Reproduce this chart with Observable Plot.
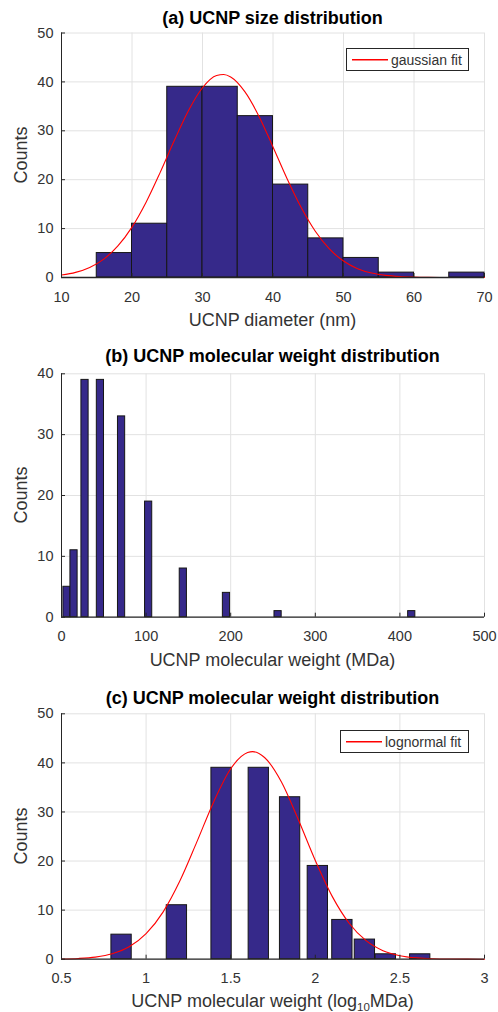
<!DOCTYPE html>
<html>
<head>
<meta charset="utf-8">
<script src="https://cdn.jsdelivr.net/npm/d3@7"></script>
<script src="https://cdn.jsdelivr.net/npm/@observablehq/plot@0.6"></script>
<style>
  body { margin: 0; background: #fff; font-family: "Liberation Sans", Arial, Helvetica, sans-serif; }
  #page { position: relative; width: 498px; height: 1012px; overflow: hidden; background: #fff; }
  .panel { position: absolute; left: 0; width: 498px; }
  .title { position: absolute; left: 61px; width: 423px; text-align: center; font-weight: bold;
           font-size: 18px; line-height: 18px; color: #000; white-space: nowrap; }
  .xlabel { position: absolute; left: 61px; width: 423px; text-align: center;
            font-size: 18px; line-height: 18px; color: #333; white-space: nowrap; }
  .xlabel sub { font-size: 11.5px; line-height: 0; vertical-align: -4px; }
  .ylabel { position: absolute; width: 200px; text-align: center; font-size: 18px; line-height: 18px;
            color: #333; transform: rotate(-90deg); white-space: nowrap; }
  .legend { position: absolute; box-sizing: border-box; border: 1px solid #262626; background: #fff;
            font-size: 14px; color: #333; white-space: nowrap; }
  .legend svg { position: absolute; left: 0; top: 0; }
  .legend .text { position: absolute; line-height: 14px; }
</style>
</head>
<body>
<div id="page"></div>
<script>
// ---- (a) size histogram: bin edges (nm) and counts ----
const sizeEdges  = [15, 20, 25, 30, 35, 40, 45, 50, 55, 60, 65, 70];
const sizeCounts = [5, 11, 39, 39, 33, 19, 8, 4, 1, 0, 1];

// gaussian fit curve sampled along the diameter axis
const gaussX = [10, 12, 14, 16, 18, 20, 22, 24, 26, 28, 30, 32, 33, 34, 36, 38, 40, 42, 44, 46, 48, 50, 52, 54, 56, 58, 60, 62, 64, 66, 68, 70];
const gaussY = [0.50, 1.05, 2.06, 3.77, 6.45, 10.3, 15.4, 21.5, 28.0, 34.1, 38.8, 41.3, 41.5, 41.0, 38.0, 33.0, 26.7, 20.2, 14.3, 9.45, 5.83, 3.37, 1.81, 0.91, 0.43, 0.19, 0.08, 0.03, 0.01, 0.0, 0.0, 0.0];

// ---- (b) molecular weight (MDa): bar centres and counts ----
const mwCenters = [6.5, 14.8, 27.8, 46, 71, 103, 144, 195, 256, 414];
const mwCounts  = [5, 11, 39, 39, 33, 19, 8, 4, 1, 1];

// ---- (c) log10 molecular weight: bar centres and counts ----
const logMwCenters = [0.855, 1.182, 1.446, 1.666, 1.851, 2.015, 2.160, 2.293, 2.417, 2.620];
const logMwCounts  = [5, 11, 39, 39, 33, 19, 8, 4, 1, 1];

// lognormal fit curve sampled along the log10 axis
const lognX = [0.5, 0.6, 0.7, 0.8, 0.9, 1.0, 1.1, 1.2, 1.3, 1.4, 1.5, 1.6, 1.63, 1.7, 1.8, 1.9, 2.0, 2.1, 2.2, 2.3, 2.4, 2.5, 2.6, 2.7, 2.8, 2.9, 3.0];
const lognY = [0.05, 0.15, 0.43, 1.10, 2.52, 5.19, 9.60, 15.98, 23.9, 32.1, 38.8, 42.1, 42.3, 41.1, 36.1, 28.4, 20.1, 12.8, 7.33, 3.77, 1.74, 0.72, 0.27, 0.09, 0.03, 0.01, 0.0];

// ---- axis ticks ----
const sizeXTicks  = [10, 20, 30, 40, 50, 60, 70];
const mwXTicks    = [0, 100, 200, 300, 400, 500];
const logXTicks   = [0.5, 1, 1.5, 2, 2.5, 3];
const counts50Ticks = [0, 10, 20, 30, 40, 50];
const counts40Ticks = [0, 10, 20, 30, 40];

// ---- text ----
const titles = ["(a) UCNP size distribution", "(b) UCNP molecular weight distribution", "(c) UCNP molecular weight distribution"];
const xLabels = ["UCNP diameter (nm)", "UCNP molecular weight (MDa)", "UCNP molecular weight (log<sub>10</sub>MDa)"];
const yLabel = "Counts";
const legendLabels = ["gaussian fit", "lognormal fit"];

// tables built from the arrays above
const sizeBars = sizeCounts.map((c, i) => ({x1: sizeEdges[i], x2: sizeEdges[i + 1], count: c}));
const gaussCurve = gaussX.map((x, i) => ({x, y: gaussY[i]}));
const MW_BAR_WIDTH = 8.5;
const mwBars = mwCenters.map((c, i) => ({x1: c - MW_BAR_WIDTH / 2, x2: c + MW_BAR_WIDTH / 2, count: mwCounts[i]}));
const LOG_BAR_WIDTH = 0.12;
const logBars = logMwCenters.map((c, i) => ({x1: c - LOG_BAR_WIDTH / 2, x2: c + LOG_BAR_WIDTH / 2, count: logMwCounts[i]}));
const lognCurve = lognX.map((x, i) => ({x, y: lognY[i]}));

const BAR_FILL = "#36298a";
const FIT_COLOR = "#ff0000";
const FONT = '"Liberation Sans", Arial, Helvetica, sans-serif';
const LABEL_SIZE = 18;
// distance from the top of a one-line box (line-height = font size) to the text baseline
const BASELINE = 0.8465 * LABEL_SIZE;
const page = document.getElementById("page");

function addDiv(cls, html, style) {
  const d = document.createElement("div");
  d.className = cls;
  d.innerHTML = html;
  Object.assign(d.style, style);
  page.appendChild(d);
  return d;
}

function drawPanel(o) {
  const frameLeft = 61, frameRight = 484;
  const fw = frameRight - frameLeft;
  const fh = o.frameBottom - o.frameTop;
  const marks = [
    Plot.gridX(o.xTicks, {stroke: "#e2e2e2", strokeOpacity: 1}),
    Plot.gridY(o.yTicks, {stroke: "#e2e2e2", strokeOpacity: 1}),
    Plot.rectY(o.bars, {x1: "x1", x2: "x2", y: "count", fill: BAR_FILL, stroke: "#161616", strokeWidth: 1})
  ];
  if (o.curve) marks.push(Plot.line(o.curve, {x: "x", y: "y", stroke: FIT_COLOR, strokeWidth: 1.1, curve: "monotone-x"}));
  marks.push(
    Plot.ruleX([o.xDomain[0]], {stroke: "#262626", strokeWidth: 1}),
    Plot.ruleY([o.yDomain[0]], {stroke: "#262626", strokeWidth: 1.3}),
    Plot.tickX(o.xTicks, {x: d => d, stroke: "#262626", insetTop: fh - 4}),
    Plot.tickY(o.yTicks, {y: d => d, stroke: "#262626", insetRight: fw - 4}),
    Plot.axisX(o.xTicks, {tickSize: 0, tickPadding: 14, tickFormat: d => String(d), label: null}),
    Plot.axisY(o.yTicks, {tickSize: 0, tickPadding: 8, tickFormat: d => String(d), label: null})
  );
  const chart = Plot.plot({
    width: 498,
    height: o.height,
    marginLeft: frameLeft,
    marginRight: 498 - frameRight,
    marginTop: o.frameTop - o.top,
    marginBottom: o.top + o.height - o.frameBottom,
    style: {fontFamily: FONT, fontSize: "14.5px", color: "#333", background: "transparent", overflow: "visible"},
    x: {domain: o.xDomain},
    y: {domain: o.yDomain},
    marks
  });
  const wrap = document.createElement("div");
  wrap.className = "panel";
  wrap.style.top = o.top + "px";
  wrap.appendChild(chart);
  page.appendChild(wrap);

  addDiv("title", o.title, {top: (o.titleBaseline - BASELINE) + "px"});
  addDiv("xlabel", o.xLabel, {top: (o.xLabelBaseline - BASELINE) + "px"});
  const cy = (o.frameTop + o.frameBottom) / 2;
  addDiv("ylabel", yLabel, {left: (20.5 - 100) + "px", top: (cy - LABEL_SIZE / 2) + "px"});

  if (o.legend) {
    const L = o.legend;
    const box = addDiv("legend", "", {left: L.left + "px", top: L.top + "px", width: L.width + "px", height: L.height + "px"});
    // legend sample line, drawn as a thin filled strip
    const ly = Math.round(L.height / 2) - 2;
    box.insertAdjacentHTML("beforeend",
      `<svg width="${L.width}" height="${L.height}"><rect x="5" width="36" y="${ly}" height="1.5" fill="${FIT_COLOR}"/></svg>`);
    const tx = document.createElement("div");
    tx.className = "text";
    tx.textContent = L.label;
    Object.assign(tx.style, {left: L.textLeft + "px", top: (L.height / 2 - 8) + "px"});
    box.appendChild(tx);
  }
}

drawPanel({
  top: 0, height: 340, frameTop: 32.5, frameBottom: 277,
  xDomain: [10, 70], yDomain: [0, 50], xTicks: sizeXTicks, yTicks: counts50Ticks,
  bars: sizeBars, curve: gaussCurve,
  title: titles[0], titleBaseline: 24, xLabel: xLabels[0], xLabelBaseline: 326.5,
  legend: {left: 346, top: 48, width: 123, height: 23, textLeft: 44, label: legendLabels[0]}
});

drawPanel({
  top: 340, height: 340, frameTop: 373.3, frameBottom: 616.7,
  xDomain: [0, 500], yDomain: [0, 40], xTicks: mwXTicks, yTicks: counts40Ticks,
  bars: mwBars, curve: null,
  title: titles[1], titleBaseline: 362, xLabel: xLabels[1], xLabelBaseline: 666,
  legend: null
});

drawPanel({
  top: 680, height: 332, frameTop: 713.3, frameBottom: 958.7,
  xDomain: [0.5, 3], yDomain: [0, 50], xTicks: logXTicks, yTicks: counts50Ticks,
  bars: logBars, curve: lognCurve,
  title: titles[2], titleBaseline: 704, xLabel: xLabels[2], xLabelBaseline: 1007,
  legend: {left: 340, top: 730, width: 129, height: 23, textLeft: 44, label: legendLabels[1]}
});
</script>
</body>
</html>
